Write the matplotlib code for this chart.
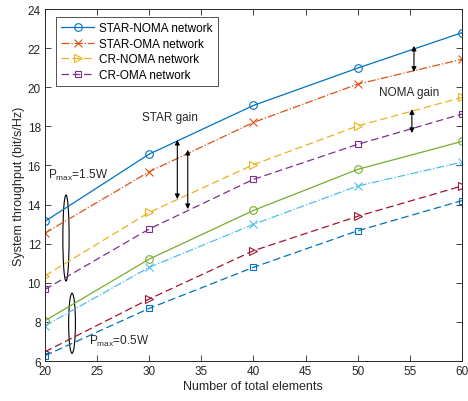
import matplotlib
matplotlib.use("Agg")
import matplotlib.pyplot as plt
from matplotlib.patches import Ellipse

plt.rcParams['font.family'] = ['Liberation Sans', 'DejaVu Sans']
plt.rcParams['mathtext.fontset'] = 'custom'
plt.rcParams['mathtext.rm'] = 'Liberation Sans'
plt.rcParams['mathtext.it'] = 'Liberation Sans:italic'
plt.rcParams['mathtext.bf'] = 'Liberation Sans:bold'

x = [20, 30, 40, 50, 60]
star_noma_15 = [13.14, 16.58, 19.07, 20.98, 22.79]
star_oma_15 = [12.54, 15.68, 18.20, 20.16, 21.43]
cr_noma_15 = [10.36, 13.60, 16.04, 18.02, 19.48]
cr_oma_15 = [9.66, 12.75, 15.29, 17.08, 18.63]
star_noma_05 = [8.06, 11.21, 13.70, 15.80, 17.23]
star_oma_05 = [7.80, 10.79, 12.99, 14.95, 16.17]
cr_noma_05 = [6.47, 9.17, 11.64, 13.40, 14.95]
cr_oma_05 = [6.27, 8.69, 10.79, 12.66, 14.20]

labels = ['STAR-NOMA network', 'STAR-OMA network', 'CR-NOMA network', 'CR-OMA network']

fig = plt.figure(figsize=(4.68, 4.02), dpi=100)
ax = fig.add_axes([0.096, 0.0995, 0.891, 0.8755])

c_blue = '#0072BD'; c_or = '#D95319'; c_ye = '#EDB120'; c_pu = '#7E2F8E'
c_gr = '#77AC30'; c_cy = '#4DBEEE'; c_re = '#A2142F'
lw = 0.9
ms = 5.5
mk = dict(markerfacecolor='none', markersize=ms, markeredgewidth=0.8)
mks = dict(mk, markersize=4.6)

ax.plot(x, star_noma_15, '-', color=c_blue, marker='o', lw=lw, label=labels[0], **mk)
ax.plot(x, star_oma_15, '-.', color=c_or, marker='x', lw=lw, label=labels[1], **mk)
ax.plot(x, cr_noma_15, '--', color=c_ye, marker='>', lw=lw, label=labels[2], dashes=(6, 3), **mk)
ax.plot(x, cr_oma_15, '--', color=c_pu, marker='s', lw=lw, label=labels[3], dashes=(6, 3), **mks)
ax.plot(x, star_noma_05, '-', color=c_gr, marker='o', lw=lw, **mk)
ax.plot(x, star_oma_05, '-.', color=c_cy, marker='x', lw=lw, **mk)
ax.plot(x, cr_noma_05, '--', color=c_re, marker='>', lw=lw, dashes=(6, 3), **mk)
ax.plot(x, cr_oma_05, '--', color=c_blue, marker='s', lw=lw, dashes=(6, 3), **mks)

ax.set_xlim(20, 60)
ax.set_ylim(6, 24)
ax.set_xticks(range(20, 61, 5))
ax.set_yticks(range(6, 25, 2))
ax.tick_params(direction='in', top=True, right=True, labelsize=8.5, length=4, width=0.6,
               colors='#262626', pad=3)
for s in ax.spines.values():
    s.set_linewidth(0.7)
    s.set_color('#262626')
ax.set_xlabel('Number of total elements', fontsize=9, color='#262626', labelpad=2)
ax.set_ylabel('System throughput (bit/s/Hz)', fontsize=9, color='#262626', labelpad=2)

leg = ax.legend(loc='upper left', bbox_to_anchor=(0.026, 0.978), fontsize=8.5, frameon=True,
                fancybox=False, edgecolor='#262626', handlelength=2.8, borderpad=0.45,
                labelspacing=0.3, handletextpad=0.4, borderaxespad=0)
leg.get_frame().set_linewidth(0.7)

arr = dict(arrowstyle='<|-|>', color='black', lw=0.8, mutation_scale=7, shrinkA=0, shrinkB=0)
ax.annotate('', xy=(32.7, 14.28), xytext=(32.7, 17.31), arrowprops=arr)
ax.annotate('', xy=(33.7, 13.77), xytext=(33.7, 16.80), arrowprops=arr)
ax.annotate('', xy=(55.4, 20.79), xytext=(55.4, 22.12), arrowprops=arr)
ax.annotate('', xy=(55.2, 17.66), xytext=(55.2, 18.88), arrowprops=arr)

ax.text(32.0, 18.47, 'STAR gain', fontsize=8.5, ha='center', va='center', color='#262626')
ax.text(54.9, 19.77, 'NOMA gain', fontsize=8.5, ha='center', va='center', color='#262626')
ax.text(20.3, 15.56, r'P$_{\mathrm{max}}$=1.5W', fontsize=8.5, ha='left', va='center', color='#262626')
ax.text(24.2, 7.03, r'P$_{\mathrm{max}}$=0.5W', fontsize=8.5, ha='left', va='center', color='#262626')

ax.add_patch(Ellipse((22.02, 12.29), 0.6, 4.4, fill=False, edgecolor='black', lw=0.8))
ax.add_patch(Ellipse((22.6, 7.93), 0.65, 3.07, fill=False, edgecolor='black', lw=0.8))

fig.savefig('out.png', dpi=100)
